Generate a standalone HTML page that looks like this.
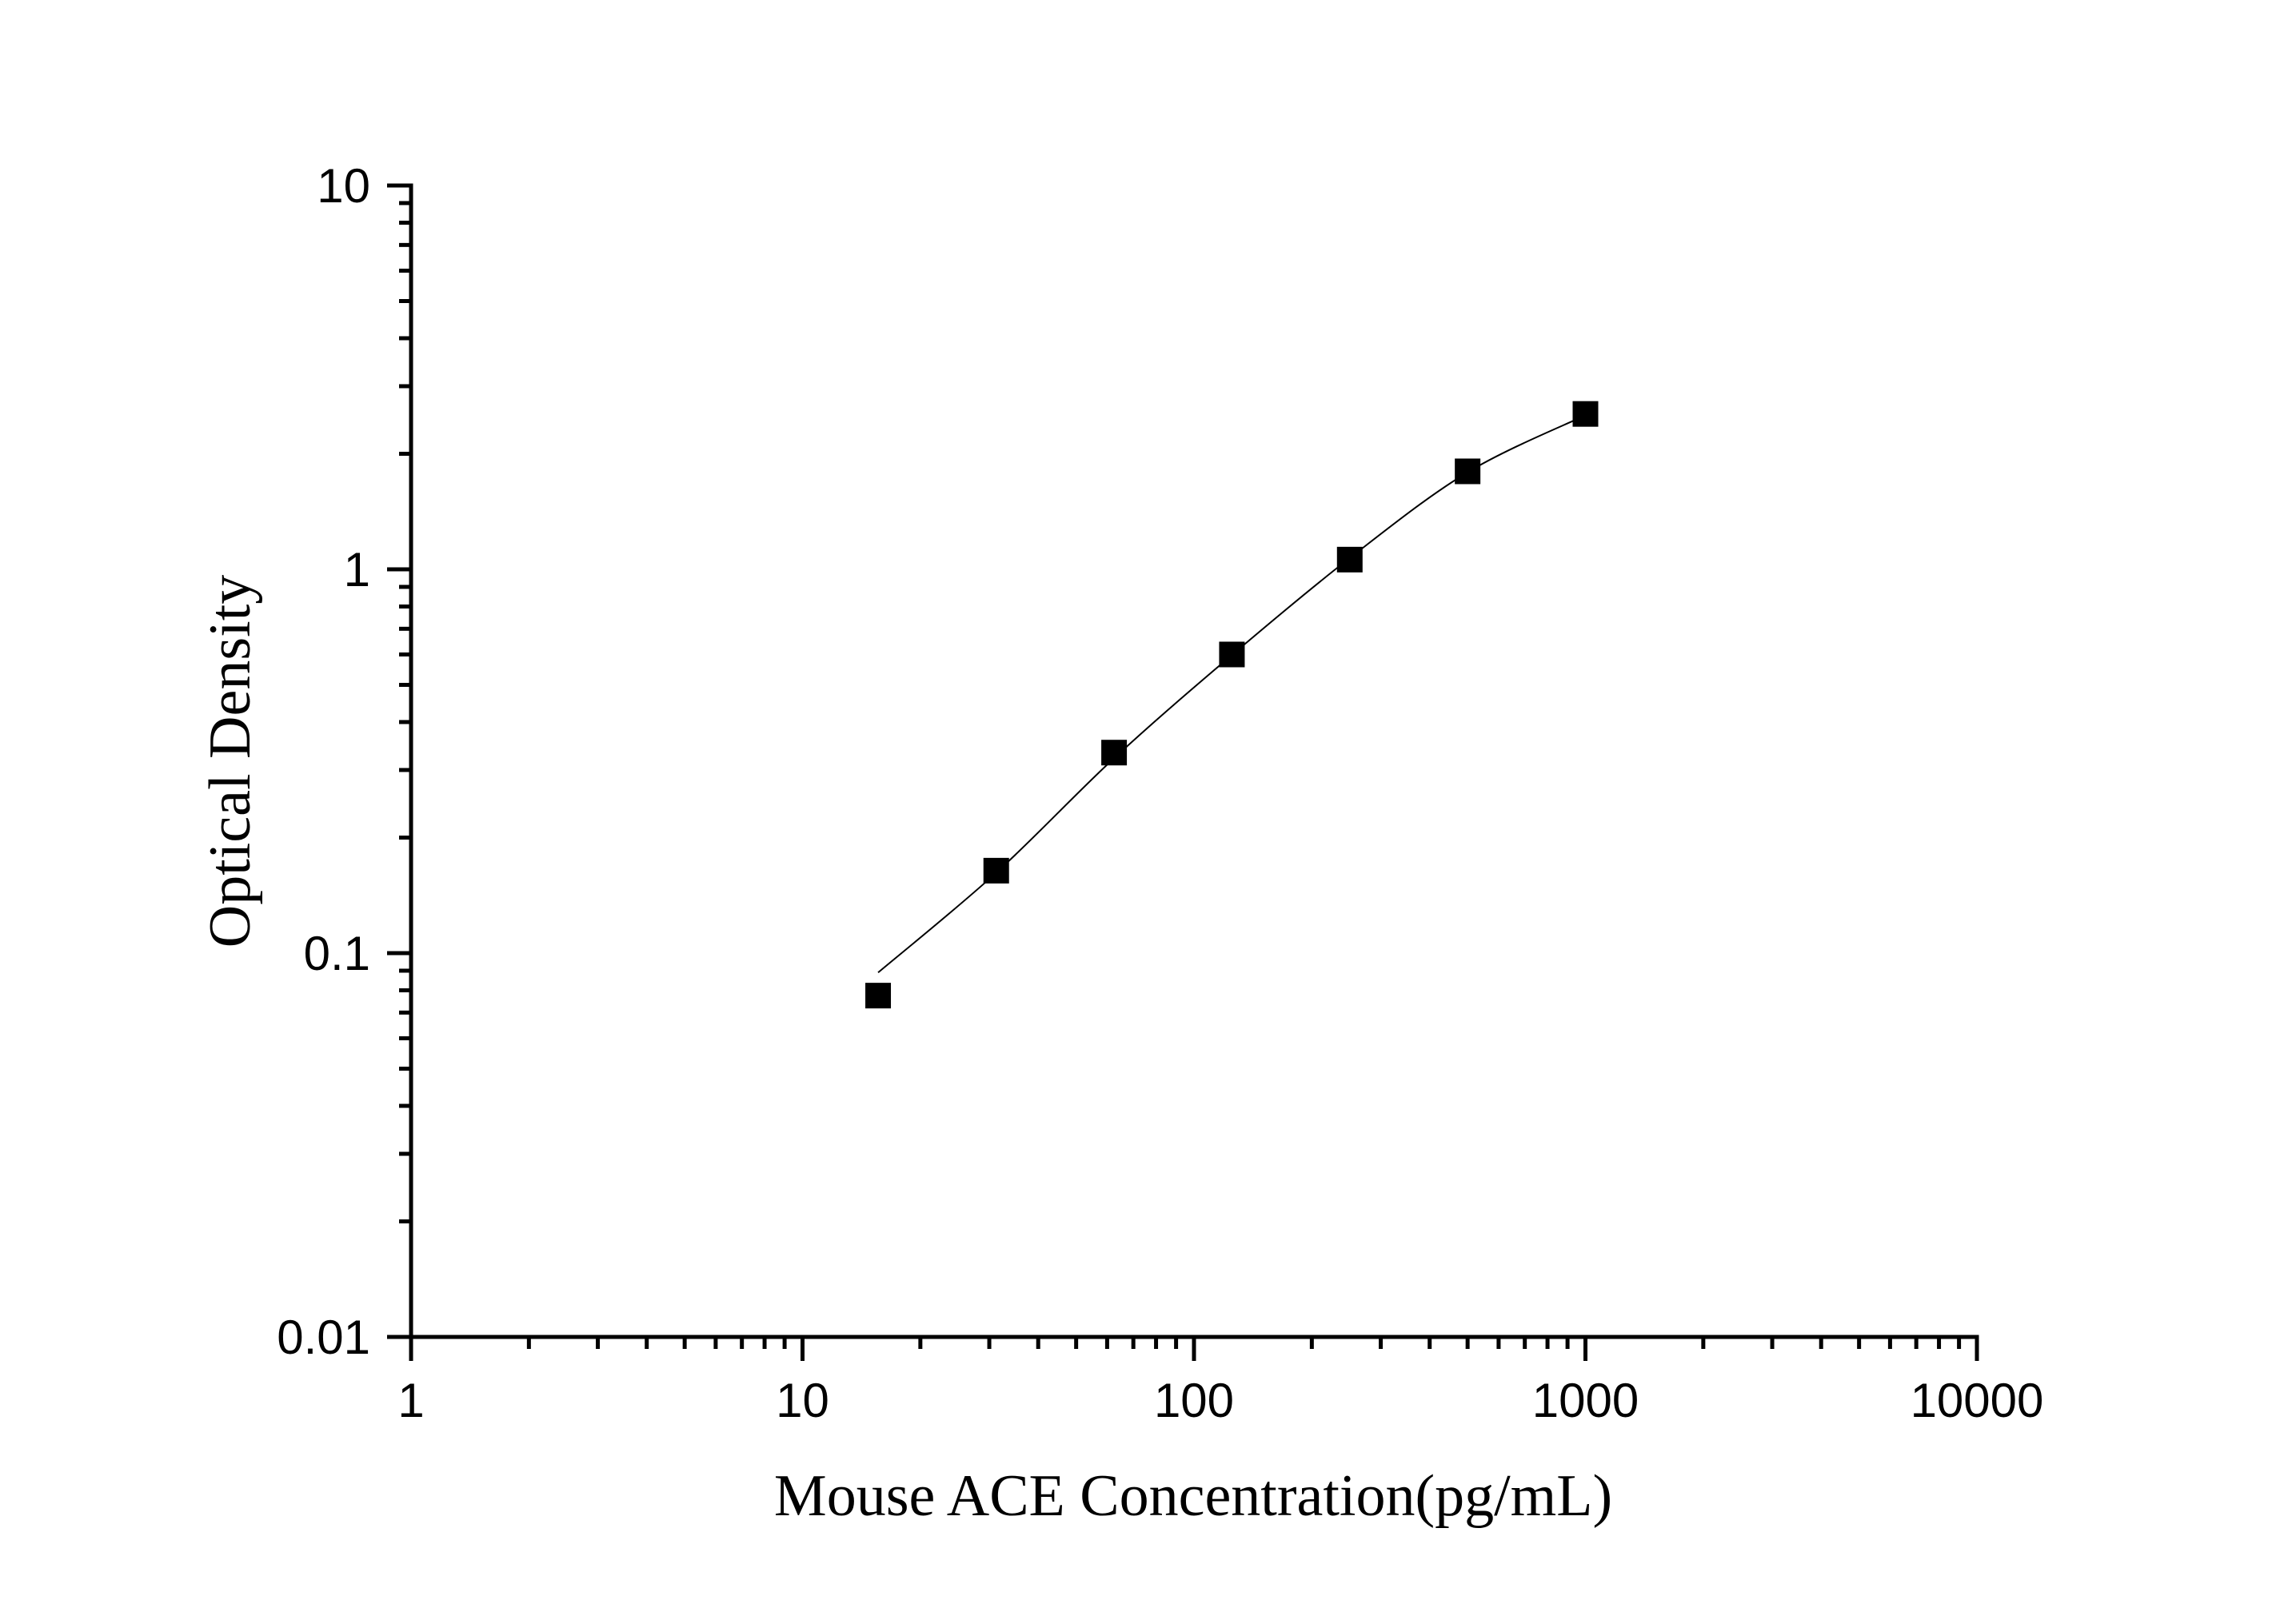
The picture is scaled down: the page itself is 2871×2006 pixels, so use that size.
<!DOCTYPE html>
<html><head><meta charset="utf-8"><style>html,body{margin:0;padding:0;background:#fff}svg{display:block}</style></head>
<body>
<svg id="chart" width="2871" height="2006" viewBox="0 0 2871 2006" xmlns="http://www.w3.org/2000/svg">
<rect width="2871" height="2006" fill="#fff"/>
<g id="axes"></g>
<path id="fit" fill="none" stroke="#000" stroke-width="2"/>
<g id="pts"></g>
<text x="1492" y="1895" text-anchor="middle" font-family="Liberation Serif, serif" font-size="74">Mouse ACE Concentration(pg/mL)</text>
<text transform="translate(312,952) rotate(-90)" text-anchor="middle" font-family="Liberation Serif, serif" font-size="74">Optical Density</text>
</svg>
<script>
const concentrations = [15.6, 31.25, 62.5, 125, 250, 500, 1000];
const odValues = [0.0775, 0.164, 0.333, 0.60, 1.06, 1.80, 2.54];
const fitValues = [0.089, 0.162, 0.322, 0.598, 1.07, 1.79, 2.52];
const xTickLabels = ["1", "10", "100", "1000", "10000"];
const yTickLabels = ["0.01", "0.1", "1", "10"];

const X0 = 514, XD = 489.5, Y0 = 1672, YD = 480;
const xs = v => X0 + Math.log10(v) * XD;
const ys = v => Y0 - (Math.log10(v) + 2) * YD;
const NS = "http://www.w3.org/2000/svg";
function mk(tag, attrs, parent) { const e = document.createElementNS(NS, tag); for (const k in attrs) e.setAttribute(k, attrs[k]); parent.appendChild(e); return e; }

const axes = document.getElementById('axes');
let l = mk('line', {x1: X0, y1: Y0, x2: xs(10000) + 2.5, y2: Y0, stroke: '#000', 'stroke-width': 5}, axes);


l = mk('line', {x1: X0, y1: ys(10) - 2.5, x2: X0, y2: Y0, stroke: '#000', 'stroke-width': 5}, axes);



xTickLabels.forEach((lab, i) => {
  const v = Math.pow(10, i), x = xs(v);
  const t = mk('line', {x1: x, y1: Y0, x2: x, y2: Y0 + 30, stroke: '#000', 'stroke-width': 5}, axes);
  
  
  const tx = mk('text', {x: x, y: 1772, 'text-anchor': 'middle', 'font-family': 'Liberation Sans, sans-serif', 'font-size': 60}, axes);
  tx.textContent = lab;
  
  
  if (i < 4) for (let m = 2; m <= 9; m++) {
    const mx = xs(v * m);
    const mt = mk('line', {x1: mx, y1: Y0, x2: mx, y2: Y0 + 15, stroke: '#000', 'stroke-width': 5}, axes);
    
    
  }
});
yTickLabels.forEach((lab, i) => {
  const v = Math.pow(10, i - 2), y = ys(v);
  const t = mk('line', {x1: X0 - 30, y1: y, x2: X0, y2: y, stroke: '#000', 'stroke-width': 5}, axes);
  
  
  const tx = mk('text', {x: 463, y: y + 21, 'text-anchor': 'end', 'font-family': 'Liberation Sans, sans-serif', 'font-size': 60}, axes);
  tx.textContent = lab;
  
  
  if (i < 3) for (let m = 2; m <= 9; m++) {
    const my = ys(v * m);
    const mt = mk('line', {x1: X0 - 15, y1: my, x2: X0, y2: my, stroke: '#000', 'stroke-width': 5}, axes);
    
    
  }
});

// fit curve: Catmull-Rom through fit values
const P = concentrations.map((c, i) => [xs(c), ys(fitValues[i])]);
let d = `M${P[0][0]},${P[0][1]}`;
for (let i = 0; i < P.length - 1; i++) {
  const p0 = P[Math.max(0, i - 1)], p1 = P[i], p2 = P[i + 1], p3 = P[Math.min(P.length - 1, i + 2)];
  const c1 = [p1[0] + (p2[0] - p0[0]) / 6, p1[1] + (p2[1] - p0[1]) / 6];
  const c2 = [p2[0] - (p3[0] - p1[0]) / 6, p2[1] - (p3[1] - p1[1]) / 6];
  d += ` C${c1[0]},${c1[1]} ${c2[0]},${c2[1]} ${p2[0]},${p2[1]}`;
}
document.getElementById('fit').setAttribute('d', d);

const pts = document.getElementById('pts');
concentrations.forEach((c, i) => {
  const r = mk('rect', {x: xs(c) - 16, y: ys(odValues[i]) - 16, width: 32, height: 32, fill: '#000'}, pts);
  
  
});
</script>
</body></html>
